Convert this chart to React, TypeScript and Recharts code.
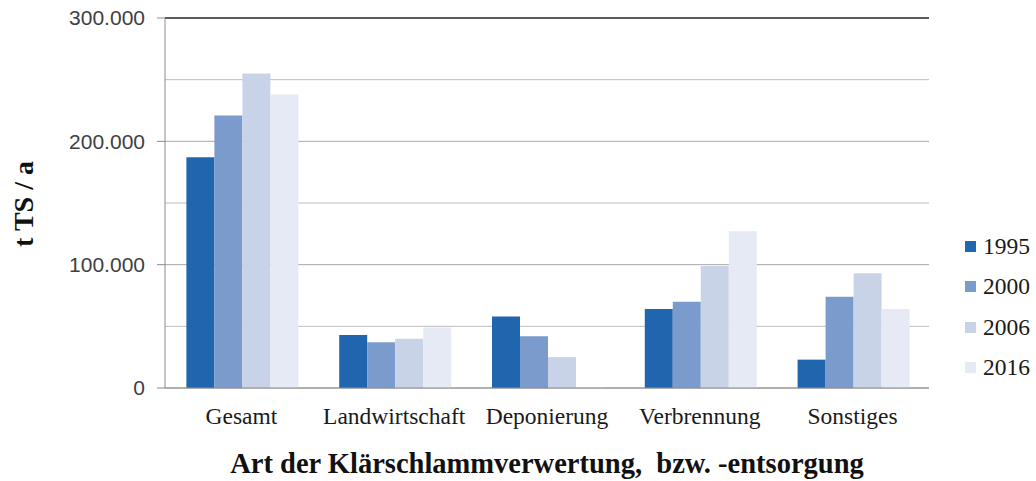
import React from "react";
import {
  BarChart,
  Bar,
  XAxis,
  YAxis,
  CartesianGrid,
  ReferenceLine,
} from "recharts";

const CATEGORIES = ["Gesamt", "Landwirtschaft", "Deponierung", "Verbrennung", "Sonstiges"];
const YEARS = ["1995", "2000", "2006", "2016"];
const VALUES_1995 = [187000, 43000, 58000, 64000, 23000];
const VALUES_2000 = [221000, 37000, 42000, 70000, 74000];
const VALUES_2006 = [255000, 40000, 25000, 99000, 93000];
const VALUES_2016 = [238000, 49000, 500, 127000, 64000];
const Y_TICKS = [0, 100000, 200000, 300000];
const MINOR_TICKS = [50000, 150000, 250000];
const BOUNDARY_TICKS = [0, 1, 2, 3, 4, 5];

const COLORS = ["#2066ae", "#7b9bcc", "#c9d3e8", "#e5eaf4"];
const SERIES = [VALUES_1995, VALUES_2000, VALUES_2006, VALUES_2016];

const data = CATEGORIES.map((name, i) => {
  const row: Record<string, string | number> = { name };
  YEARS.forEach((y, s) => {
    row["y" + y] = SERIES[s][i];
  });
  return row;
});

const W = 1036;
const H = 481;
const Y_MAX = Y_TICKS[Y_TICKS.length - 1];
const SERIF = "'Liberation Serif', 'Times New Roman', serif";
const SANS = "'Liberation Sans', Arial, sans-serif";

const formatThousands = (v: number) =>
  v === 0 ? "0" : v.toString().replace(/\B(?=(\d{3})+(?!\d))/g, ".");

// minor gridlines at the half steps
const minorLines = ({ yAxis, offset }: any) =>
  MINOR_TICKS.map((v) => {
    const sc = yAxis && yAxis.scale;
    if (typeof sc === "function") return sc(v);
    if (sc && typeof sc.map === "function") return sc.map(v);
    return offset.top + offset.height * (1 - v / Y_MAX);
  });

const YTitle = ({ viewBox }: any) => {
  const cx = viewBox.x + 33;
  const cy = viewBox.y + viewBox.height / 2 + 1;
  return (
    <text
      x={cx}
      y={cy}
      transform={`rotate(-90 ${cx} ${cy})`}
      textAnchor="middle"
      fontFamily={SERIF}
      fontWeight="bold"
      fontSize={28}
      fill="#111"
    >
      t TS / a
    </text>
  );
};

export default function App() {
  return (
    <div style={{ position: "absolute", left: 0, top: 0, width: W, height: H, background: "#fff" }}>
      <BarChart
        width={W}
        height={H}
        data={data}
        margin={{ top: 18, right: 107, bottom: 0, left: 0 }}
        barCategoryGap="14%"
        barGap={0}
      >
        <CartesianGrid
          xAxisId="cat"
          yAxisId="l"
          vertical={false}
          stroke="#bdbdbd"
          horizontalCoordinatesGenerator={minorLines}
        />
        <CartesianGrid xAxisId="cat" yAxisId="l" vertical={false} stroke="#a8a8a8" />
        <XAxis
          xAxisId="a"
          type="number"
          domain={[0, 5]}
          ticks={BOUNDARY_TICKS}
          tick={false}
          tickSize={5}
          height={1}
          axisLine={{ stroke: "#8c8c8c" }}
          tickLine={{ stroke: "#8c8c8c" }}
        />
        <XAxis
          xAxisId="cat"
          dataKey="name"
          height={92}
          interval={0}
          axisLine={false}
          tickLine={false}
          tickSize={0}
          tickMargin={18}
          tick={{ fontFamily: SERIF, fontSize: 23.5, fill: "#1a1a1a" }}
          label={{
            value: "Art der Klärschlammverwertung,\u00a0 bzw. -entsorgung",
            position: "insideBottom",
            offset: 8,
            fontFamily: SERIF,
            fontWeight: "bold",
            fontSize: 28.5,
            fill: "#111",
          }}
        />
        <YAxis
          yAxisId="l"
          width={165}
          domain={[0, Y_MAX]}
          ticks={Y_TICKS}
          tickFormatter={formatThousands}
          tickSize={8}
          tickMargin={12}
          axisLine={{ stroke: "#8c8c8c" }}
          tickLine={{ stroke: "#8c8c8c" }}
          tick={{ fontFamily: SANS, fontSize: 21, fill: "#404040" }}
          label={{ content: YTitle }}
        />
        <YAxis
          yAxisId="r"
          orientation="right"
          width={0}
          domain={[0, Y_MAX]}
          tick={false}
          tickLine={false}
          axisLine={{ stroke: "#333", strokeWidth: 1.5 }}
        />
        {YEARS.map((y, s) => (
          <Bar
            key={y}
            xAxisId="cat"
            yAxisId="l"
            dataKey={"y" + y}
            name={y}
            fill={COLORS[s]}
            isAnimationActive={false}
          />
        ))}
        <ReferenceLine xAxisId="cat" yAxisId="l" y={Y_MAX} stroke="#333" strokeWidth={1.5} />
      </BarChart>

      {/* legend */}
      <div style={{ position: "absolute", left: 965, top: 226 }}>
        {YEARS.map((y, s) => (
          <div key={y} style={{ display: "flex", alignItems: "center", height: 40.5 }}>
            <div style={{ width: 11, height: 11, background: COLORS[s], marginRight: 7 }} />
            <span style={{ fontFamily: SERIF, fontSize: 23.5, color: "#1a1a1a" }}>{y}</span>
          </div>
        ))}
      </div>
    </div>
  );
}
